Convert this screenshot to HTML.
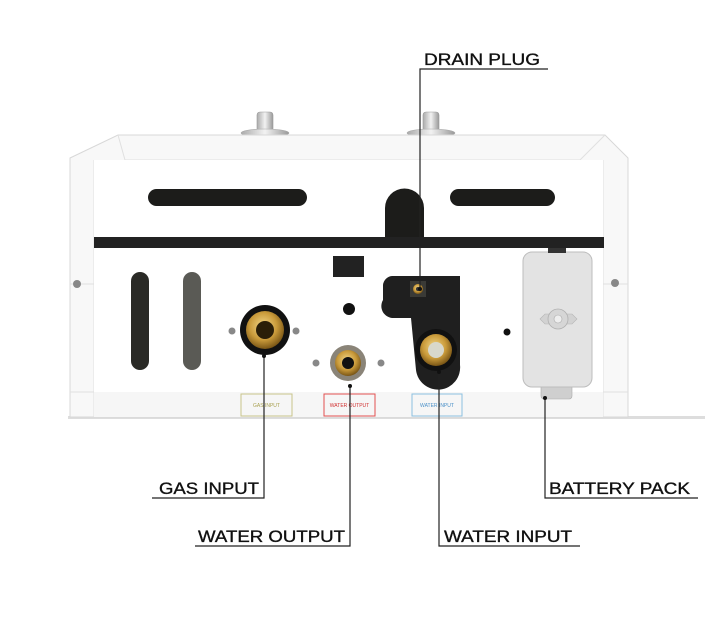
<!DOCTYPE html>
<html><head><meta charset="utf-8"><style>
html,body{margin:0;padding:0;background:#fff;width:705px;height:622px;overflow:hidden}
svg{display:block}
text{font-family:"Liberation Sans",sans-serif;font-size:17px;fill:#111;stroke:#111;stroke-width:0.35}
.s{font-size:5px;stroke:none}
</style></head><body>
<svg width="705" height="622" viewBox="0 0 705 622">
<defs>
<radialGradient id="brass" cx="45%" cy="40%" r="60%"><stop offset="0" stop-color="#f4d98a"/><stop offset="0.6" stop-color="#c99a3a"/><stop offset="1" stop-color="#7a5616"/></radialGradient>
<linearGradient id="knob" x1="0" x2="1"><stop offset="0" stop-color="#aaa"/><stop offset=".5" stop-color="#f2f2f2"/><stop offset="1" stop-color="#999"/></linearGradient>
</defs>
<rect x="68" y="416" width="637" height="3" fill="#ddd"/>
<rect x="257" y="112" width="16" height="20" rx="3" fill="url(#knob)" stroke="#999" stroke-width=".6"/>
<ellipse cx="265" cy="133" rx="24" ry="4" fill="url(#knob)" stroke="#aaa" stroke-width=".6"/>
<rect x="423" y="112" width="16" height="20" rx="3" fill="url(#knob)" stroke="#999" stroke-width=".6"/>
<ellipse cx="431" cy="133" rx="24" ry="4" fill="url(#knob)" stroke="#aaa" stroke-width=".6"/>
<path d="M70 158 L118 135 L605 135 L628 158 L628 417 L70 417 Z" fill="#f8f8f8" stroke="#d8d8d8"/>
<path d="M94 160 L94 417 M603 160 L603 417 M118 135 L125 160 L580 160 L605 135 M70 284 L94 284 M603 284 L628 284 M70 392 L628 392" stroke="#e0e0e0" fill="none"/>
<rect x="94" y="160" width="509" height="257" fill="#fff"/>
<rect x="94" y="392" width="509" height="25" fill="#f6f6f6"/>
<rect x="148" y="189" width="159" height="17" rx="8.5" fill="#1c1c1a"/>
<rect x="450" y="189" width="105" height="17" rx="8.5" fill="#1c1c1a"/>
<path d="M385 247 L385 208 A19.5 19.5 0 0 1 424 208 L424 247 Z" fill="#1c1c1a"/>
<rect x="94" y="237" width="510" height="11" fill="#222"/>
<circle cx="77" cy="284" r="4" fill="#888"/><circle cx="615" cy="283" r="4" fill="#888"/>
<rect x="131" y="272" width="18" height="98" rx="9" fill="#2a2a26"/>
<rect x="183" y="272" width="18" height="98" rx="9" fill="#5a5a55"/>
<rect x="333" y="256" width="31" height="21" fill="#222"/>
<circle cx="349" cy="309" r="6" fill="#111"/>
<circle cx="507" cy="332" r="3.5" fill="#111"/>
<path d="M392 276 L460 276 L460 365 A22 22 0 0 1 416 370 L411 318 L392 318 A12 12 0 0 1 383 300 L383 285 A10 10 0 0 1 392 276 Z" fill="#1f1f1f"/>
<rect x="410" y="281" width="16" height="16" fill="#3a3a36"/>
<circle cx="418" cy="289" r="5" fill="url(#brass)"/><circle cx="418" cy="289" r="2" fill="#333"/>
<circle cx="265" cy="330" r="25" fill="#111"/>
<circle cx="265" cy="330" r="19" fill="url(#brass)"/>
<circle cx="265" cy="330" r="9" fill="#2a1e08"/>
<circle cx="232" cy="331" r="3.5" fill="#888"/><circle cx="296" cy="331" r="3.5" fill="#888"/>
<circle cx="348" cy="363" r="18" fill="#8a8478"/>
<circle cx="348" cy="363" r="13" fill="url(#brass)"/>
<circle cx="348" cy="363" r="6" fill="#111"/>
<circle cx="316" cy="363" r="3.5" fill="#888"/><circle cx="381" cy="363" r="3.5" fill="#888"/>
<circle cx="436" cy="350" r="21" fill="#111"/>
<circle cx="436" cy="350" r="16" fill="url(#brass)"/>
<circle cx="436" cy="350" r="8" fill="#d8d8cc"/>
<rect x="541" y="384" width="31" height="15" rx="3" fill="#cfcfcf" stroke="#aaa" stroke-width=".6"/>
<rect x="523" y="252" width="69" height="135" rx="9" fill="#e3e3e3" stroke="#bdbdbd"/>
<rect x="548" y="248" width="18" height="5" fill="#333"/>
<path d="M540 319 L545 314 L572 314 L577 319 L572 324 L545 324 Z" fill="#d2d2d2" stroke="#b5b5b5" stroke-width=".6"/>
<circle cx="558" cy="319" r="10" fill="#d6d6d6" stroke="#b0b0b0" stroke-width=".8"/><circle cx="558" cy="319" r="4" fill="#eee" stroke="#aaa" stroke-width=".6"/>
<rect x="241" y="394" width="51" height="22" fill="none" stroke="#c8c48a" stroke-width="1"/>
<text x="266.5" y="407" class="s" text-anchor="middle" style="fill:#a8a050">GAS INPUT</text>
<rect x="324" y="394" width="51" height="22" fill="none" stroke="#e25050" stroke-width="1"/>
<text x="349.5" y="407" class="s" text-anchor="middle" style="fill:#d03030">WATER OUTPUT</text>
<rect x="412" y="394" width="50" height="22" fill="none" stroke="#8cc0e0" stroke-width="1"/>
<text x="437" y="407" class="s" text-anchor="middle" style="fill:#4a90c8">WATER INPUT</text>
<g stroke="#222" stroke-width="1.2" fill="none">
<path d="M548 69 L420 69 L420 289"/>
<path d="M152 498 L264 498 L264 356"/>
<path d="M195 546 L350 546 L350 386"/>
<path d="M580 546 L439 546 L439 372"/>
<path d="M698 498 L545 498 L545 398"/>
</g>
<g fill="#111">
<circle cx="420" cy="289" r="2"/><circle cx="264" cy="356" r="2"/><circle cx="350" cy="386" r="2"/><circle cx="439" cy="372" r="2"/><circle cx="545" cy="398" r="2"/>
</g>
<text x="424" y="65" textLength="116" lengthAdjust="spacingAndGlyphs">DRAIN PLUG</text>
<text x="159" y="494" textLength="100" lengthAdjust="spacingAndGlyphs">GAS INPUT</text>
<text x="198" y="542" textLength="147" lengthAdjust="spacingAndGlyphs">WATER OUTPUT</text>
<text x="444" y="542" textLength="128" lengthAdjust="spacingAndGlyphs">WATER INPUT</text>
<text x="549" y="494" textLength="141" lengthAdjust="spacingAndGlyphs">BATTERY PACK</text>
</svg>
</body></html>
